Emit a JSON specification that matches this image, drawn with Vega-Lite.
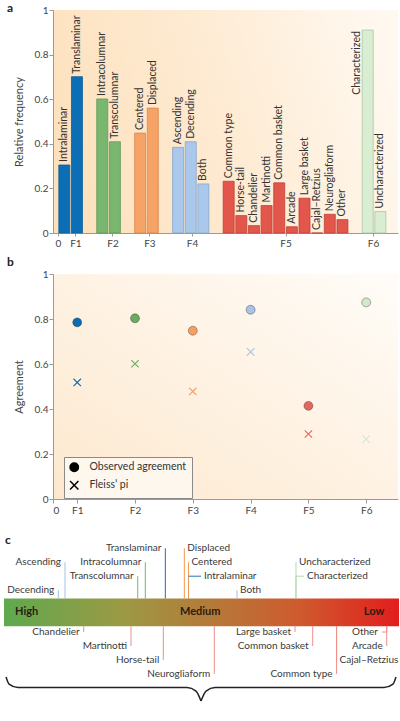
{
  "$schema": "https://vega.github.io/schema/vega-lite/v6.json",
  "background": "white",
  "padding": {"left": 3, "top": 2, "right": 0, "bottom": 0},
  "columns": 1,
  "spacing": 8,
  "resolve": {"scale": {"color": "independent", "stroke": "independent", "shape": "independent"}},
  "config": {
    "font": "Lato",
    "view": {"stroke": null},
    "axis": {"labelFont": "Lato", "titleFont": "Lato", "labelColor": "#444", "titleColor": "#444", "domainColor": "#9a9a9a", "tickColor": "#9a9a9a", "grid": false, "labelFontSize": 10, "titleFontSize": 11, "titleFontWeight": "normal"},
    "title": {"fontSize": 12, "fontWeight": "bold", "anchor": "start", "color": "#222", "font": "Lato"}
  },
  "datasets": {
    "bars": [
      {"name": "Intralaminar", "group": "F1", "slot": 0, "value": 0.305},
      {"name": "Translaminar", "group": "F1", "slot": 1, "value": 0.701},
      {"name": "Intracolumnar", "group": "F2", "slot": 3, "value": 0.601},
      {"name": "Transcolumnar", "group": "F2", "slot": 4, "value": 0.409},
      {"name": "Centered", "group": "F3", "slot": 6, "value": 0.448},
      {"name": "Displaced", "group": "F3", "slot": 7, "value": 0.56},
      {"name": "Ascending", "group": "F4", "slot": 9, "value": 0.384},
      {"name": "Decending", "group": "F4", "slot": 10, "value": 0.409},
      {"name": "Both", "group": "F4", "slot": 11, "value": 0.22},
      {"name": "Common type", "group": "F5", "slot": 13, "value": 0.232},
      {"name": "Horse-tail", "group": "F5", "slot": 14, "value": 0.078},
      {"name": "Chandelier", "group": "F5", "slot": 15, "value": 0.033},
      {"name": "Martinotti", "group": "F5", "slot": 16, "value": 0.123},
      {"name": "Common basket", "group": "F5", "slot": 17, "value": 0.225},
      {"name": "Arcade", "group": "F5", "slot": 18, "value": 0.028},
      {"name": "Large basket", "group": "F5", "slot": 19, "value": 0.156},
      {"name": "Cajal–Retzius", "group": "F5", "slot": 20, "value": 0.0},
      {"name": "Neurogliaform", "group": "F5", "slot": 21, "value": 0.084},
      {"name": "Other", "group": "F5", "slot": 22, "value": 0.06},
      {"name": "Characterized", "group": "F6", "slot": 24, "value": 0.91},
      {"name": "Uncharacterized", "group": "F6", "slot": 25, "value": 0.096}
    ],
    "points": [
      {"group": "F1", "f": 1, "measure": "Observed agreement", "value": 0.785},
      {"group": "F2", "f": 2, "measure": "Observed agreement", "value": 0.803},
      {"group": "F3", "f": 3, "measure": "Observed agreement", "value": 0.748},
      {"group": "F4", "f": 4, "measure": "Observed agreement", "value": 0.841},
      {"group": "F5", "f": 5, "measure": "Observed agreement", "value": 0.414},
      {"group": "F6", "f": 6, "measure": "Observed agreement", "value": 0.874},
      {"group": "F1", "f": 1, "measure": "Fleiss’ pi", "value": 0.518},
      {"group": "F2", "f": 2, "measure": "Fleiss’ pi", "value": 0.601},
      {"group": "F3", "f": 3, "measure": "Fleiss’ pi", "value": 0.478},
      {"group": "F4", "f": 4, "measure": "Fleiss’ pi", "value": 0.654},
      {"group": "F5", "f": 5, "measure": "Fleiss’ pi", "value": 0.289},
      {"group": "F6", "f": 6, "measure": "Fleiss’ pi", "value": 0.266}
    ],
    "tags": [
      {"name": "Decending", "group": "F4", "pos": 0.1375, "labelPos": 0.1375, "tier": 1, "side": "above", "anchor": "left"},
      {"name": "Ascending", "group": "F4", "pos": 0.1544, "labelPos": 0.1544, "tier": 3, "side": "above", "anchor": "left"},
      {"name": "Transcolumnar", "group": "F2", "pos": 0.3385, "labelPos": 0.3385, "tier": 2, "side": "above", "anchor": "left"},
      {"name": "Intracolumnar", "group": "F2", "pos": 0.3577, "labelPos": 0.3577, "tier": 3, "side": "above", "anchor": "left"},
      {"name": "Translaminar", "group": "F1", "pos": 0.4084, "labelPos": 0.4084, "tier": 4, "side": "above", "anchor": "left"},
      {"name": "Displaced", "group": "F3", "pos": 0.4565, "labelPos": 0.4565, "tier": 4, "side": "above", "anchor": "right"},
      {"name": "Intralaminar", "group": "F1", "pos": 0.4671, "labelPos": 0.4987, "tier": 2, "side": "above", "anchor": "right"},
      {"name": "Centered", "group": "F3", "pos": 0.4671, "labelPos": 0.4671, "tier": 3, "side": "above", "anchor": "right"},
      {"name": "Both", "group": "F4", "pos": 0.5899, "labelPos": 0.5899, "tier": 1, "side": "above", "anchor": "right"},
      {"name": "Characterized", "group": "F6", "pos": 0.7392, "labelPos": 0.7595, "tier": 2, "side": "above", "anchor": "right"},
      {"name": "Uncharacterized", "group": "F6", "pos": 0.7392, "labelPos": 0.7392, "tier": 3, "side": "above", "anchor": "right"},
      {"name": "Chandelier", "group": "F5", "pos": 0.2018, "labelPos": 0.2018, "tier": -2, "side": "below", "anchor": "left"},
      {"name": "Martinotti", "group": "F5", "pos": 0.3215, "labelPos": 0.3215, "tier": -3, "side": "below", "anchor": "left"},
      {"name": "Horse-tail", "group": "F5", "pos": 0.4033, "labelPos": 0.4033, "tier": -4, "side": "below", "anchor": "left"},
      {"name": "Neurogliaform", "group": "F5", "pos": 0.5324, "labelPos": 0.5324, "tier": -5, "side": "below", "anchor": "left"},
      {"name": "Large basket", "group": "F5", "pos": 0.7367, "labelPos": 0.7367, "tier": -2, "side": "below", "anchor": "left"},
      {"name": "Common basket", "group": "F5", "pos": 0.7815, "labelPos": 0.7815, "tier": -3, "side": "below", "anchor": "left"},
      {"name": "Cajal–Retzius", "group": "F5", "pos": 0.842, "labelPos": 0.842, "tier": -4, "side": "below", "anchor": "right"},
      {"name": "Common type", "group": "F5", "pos": 0.842, "labelPos": 0.842, "tier": -5, "side": "below", "anchor": "left"},
      {"name": "Other", "group": "F5", "pos": 0.9689, "labelPos": 0.957, "tier": -2, "side": "below", "anchor": "left"},
      {"name": "Arcade", "group": "F5", "pos": 0.9689, "labelPos": 0.9689, "tier": -3, "side": "below", "anchor": "left"}
    ],
    "brace": [
      {"half": "left", "pos": 0.0051, "t": -5.224},
      {"half": "left", "pos": 0.0127, "t": -5.726},
      {"half": "left", "pos": 0.0354, "t": -5.976},
      {"half": "left", "pos": 0.4633, "t": -5.976},
      {"half": "left", "pos": 0.4861, "t": -6.227},
      {"half": "left", "pos": 0.4987, "t": -6.943},
      {"half": "right", "pos": 0.4987, "t": -6.943},
      {"half": "right", "pos": 0.5114, "t": -6.227},
      {"half": "right", "pos": 0.5342, "t": -5.976},
      {"half": "right", "pos": 0.962, "t": -5.976},
      {"half": "right", "pos": 0.9848, "t": -5.726},
      {"half": "right", "pos": 0.9924, "t": -5.224}
    ],
    "levels": [
      {"label": "High", "pos": 0.0278, "t": -0.568, "anchor": "left"},
      {"label": "Medium", "pos": 0.4967, "t": -0.568, "anchor": "center"},
      {"label": "Low", "pos": 0.9628, "t": -0.568, "anchor": "right"}
    ],
    "scaleband": [
      {"segment": "agreement scale", "start": 0, "end": 1, "top": 0.41, "bottom": -1.59}
    ]
  },
  "concat": [
    {
      "width": 345,
      "height": 223,
      "title": {"text": "a", "offset": -10, "dx": -6},
      "view": {"stroke": null, "fill": {"gradient": "linear", "x1": 0, "y1": 0.6, "x2": 1, "y2": 0.4, "stops": [{"offset": 0, "color": "#fde1bd"}, {"offset": 0.5, "color": "#feebd3"}, {"offset": 1, "color": "#fff8ef"}]}},
      "data": {"name": "bars"},
      "encoding": {
        "x": {"field": "slot", "type": "quantitative", "scale": {"domain": [-0.5, 26], "nice": false, "zero": false},
              "axis": {"title": null, "values": [-0.5, 0.88, 3.81, 6.73, 10.1, 17.5, 24.42], "labelExpr": "['0','F1','F2','F3','F4','F5','F6'][indexof([-0.5, 0.88, 3.81, 6.73, 10.1, 17.5, 24.42], datum.value)]", "tickSize": 3, "labelPadding": 2}},
        "y": {"field": "value", "type": "quantitative", "scale": {"domain": [0, 1], "nice": false},
              "axis": {"title": "Relative frequency", "values": [0, 0.2, 0.4, 0.6, 0.8, 1], "format": "~g", "tickSize": 4, "labelPadding": 1, "titlePadding": 10}}
      },
      "layer": [
        {
          "mark": {"type": "bar", "size": 11, "strokeWidth": 0.8},
          "encoding": {
            "color": {"field": "group", "type": "nominal", "scale": {"domain": ["F1", "F2", "F3", "F4", "F5", "F6"], "range": ["#0c6fb6", "#79b66f", "#f5a366", "#a9c8eb", "#e2564b", "#d9edd2"]}, "legend": null},
            "stroke": {"field": "group", "type": "nominal", "scale": {"domain": ["F1", "F2", "F3", "F4", "F5", "F6"], "range": ["#0a5f9c", "#5e9a56", "#d9874d", "#86a6cc", "#c43f36", "#a9c7a1"]}, "legend": null}
          }
        },
        {
          "transform": [{"filter": "datum.name !== 'Characterized'"}],
          "mark": {"type": "text", "angle": 270, "align": "left", "baseline": "middle", "dx": 3, "fontSize": 10.5, "color": "#333"},
          "encoding": {"text": {"field": "name"}}
        },
        {
          "transform": [{"filter": "datum.name === 'Characterized'"}],
          "mark": {"type": "text", "angle": 270, "align": "right", "baseline": "middle", "dx": -1, "dy": -11, "fontSize": 10.5, "color": "#333"},
          "encoding": {"text": {"field": "name"}}
        }
      ]
    },
    {
      "width": 345,
      "height": 225,
      "title": {"text": "b", "offset": 0, "dx": -6},
      "view": {"stroke": null, "fill": {"gradient": "linear", "x1": 0, "y1": 1, "x2": 1, "y2": 0, "stops": [{"offset": 0, "color": "#fde8ce"}, {"offset": 1, "color": "#fffcf8"}]}},
      "data": {"name": "points"},
      "encoding": {
        "x": {"field": "f", "type": "quantitative", "scale": {"domain": [0.581, 6.55], "nice": false, "zero": false},
              "axis": {"title": null, "values": [0.581, 1, 2, 3, 4, 5, 6], "labelExpr": "datum.value < 1 ? '0' : 'F' + datum.value", "tickSize": 4, "labelPadding": 2}},
        "y": {"field": "value", "type": "quantitative", "scale": {"domain": [0, 1], "nice": false},
              "axis": {"title": "Agreement", "values": [0, 0.2, 0.4, 0.6, 0.8, 1], "format": "~g", "tickSize": 4, "labelPadding": 1, "titlePadding": 10}},
        "shape": {"field": "measure", "type": "nominal", "scale": {"domain": ["Observed agreement", "Fleiss’ pi"], "range": ["circle", "M-1,-1L1,1M-1,1L1,-1"]},
                  "legend": {"title": null, "orient": "none", "legendX": 11, "legendY": 183, "strokeColor": "#8a8a8a", "fillColor": "#fdf7ee", "padding": 5, "labelFontSize": 10.5, "labelColor": "#333", "labelFont": "Lato", "symbolSize": 70, "rowPadding": 3, "labelOffset": 10,
                             "encode": {"symbols": {"update": {"fill": {"value": "#555"}, "stroke": {"value": "#222"}, "strokeWidth": {"value": 1.2}, "opacity": {"value": 1}}}}}},
        "color": {"field": "group", "type": "nominal", "scale": {"domain": ["F1", "F2", "F3", "F4", "F5", "F6"], "range": ["#0b6cb4", "#6aab62", "#f4a064", "#a7c4e6", "#e4675b", "#d3e8cb"]}, "legend": null}
      },
      "layer": [
        {
          "transform": [{"filter": "datum.measure === 'Observed agreement'"}],
          "mark": {"type": "point", "filled": true, "size": 80, "opacity": 1, "stroke": "#000", "strokeOpacity": 0.3, "strokeWidth": 1}
        },
        {
          "transform": [{"filter": "datum.measure !== 'Observed agreement'"}],
          "mark": {"type": "point", "filled": false, "size": 55, "opacity": 1, "strokeWidth": 1.1}
        }
      ]
    },
    {
      "width": 346,
      "height": 196,
      "title": {"text": "c", "offset": -24, "dx": 2},
      "view": {"stroke": null},
      "encoding": {
        "x": {"field": "pos", "type": "quantitative", "scale": {"domain": [0.124, 1], "nice": false, "zero": false}, "axis": null},
        "y": {"field": "t", "type": "quantitative", "scale": {"domain": [-8.23, 5.81], "nice": false, "zero": false}, "axis": null}
      },
      "layer": [
        {
          "data": {"name": "scaleband"},
          "mark": {"type": "rect", "fill": {"gradient": "linear", "x1": 0, "y1": 0, "x2": 1, "y2": 0, "stops": [{"offset": 0, "color": "#5ea94f"}, {"offset": 0.3, "color": "#9c9944"}, {"offset": 0.5, "color": "#b27d3a"}, {"offset": 0.75, "color": "#cf5a2e"}, {"offset": 1, "color": "#e21d1d"}]}},
          "encoding": {"x": {"field": "start", "type": "quantitative"}, "x2": {"field": "end"}, "y": {"field": "top", "type": "quantitative"}, "y2": {"field": "bottom"}}
        },
        {
          "data": {"name": "levels"},
          "transform": [{"filter": "datum.anchor === 'left'"}],
          "mark": {"type": "text", "align": "left", "baseline": "middle", "fontWeight": "bold", "fontSize": 11, "color": "#2a1d10"},
          "encoding": {"text": {"field": "label"}}
        },
        {
          "data": {"name": "levels"},
          "transform": [{"filter": "datum.anchor === 'center'"}],
          "mark": {"type": "text", "align": "center", "baseline": "middle", "fontWeight": "bold", "fontSize": 11, "color": "#2a1d10"},
          "encoding": {"text": {"field": "label"}}
        },
        {
          "data": {"name": "levels"},
          "transform": [{"filter": "datum.anchor === 'right'"}],
          "mark": {"type": "text", "align": "right", "baseline": "middle", "fontWeight": "bold", "fontSize": 11, "color": "#2a1d10"},
          "encoding": {"text": {"field": "label"}}
        },
        {
          "data": {"name": "tags"},
          "transform": [{"filter": "datum.side === 'above'"}],
          "mark": {"type": "rule", "strokeWidth": 1},
          "encoding": {
            "y": {"field": "tier", "type": "quantitative"},
            "y2": {"datum": 0.41},
            "color": {"field": "group", "type": "nominal", "scale": {"domain": ["F1", "F2", "F3", "F4", "F5", "F6"], "range": ["#1a74ba", "#7ab36f", "#f19a52", "#a3c3e3", "#ef8f87", "#b5d9ad"]}, "legend": null}
          }
        },
        {
          "data": {"name": "tags"},
          "transform": [{"filter": "datum.side === 'below'"}],
          "mark": {"type": "rule", "strokeWidth": 1},
          "encoding": {
            "y": {"field": "tier", "type": "quantitative"},
            "y2": {"datum": -1.59},
            "color": {"field": "group", "type": "nominal", "legend": null}
          }
        },
        {
          "data": {"name": "tags"},
          "transform": [{"filter": "datum.pos !== datum.labelPos"}],
          "mark": {"type": "rule", "strokeWidth": 1},
          "encoding": {
            "x2": {"field": "labelPos"},
            "y": {"field": "tier", "type": "quantitative"},
            "color": {"field": "group", "type": "nominal", "legend": null}
          }
        },
        {
          "data": {"name": "tags"},
          "transform": [{"filter": "datum.anchor === 'left'"}],
          "mark": {"type": "text", "align": "right", "baseline": "middle", "dx": -4, "fontSize": 10, "color": "#3a3a3a"},
          "encoding": {"x": {"field": "labelPos", "type": "quantitative"}, "y": {"field": "tier", "type": "quantitative"}, "text": {"field": "name"}}
        },
        {
          "data": {"name": "tags"},
          "transform": [{"filter": "datum.anchor === 'right'"}],
          "mark": {"type": "text", "align": "left", "baseline": "middle", "dx": 3, "fontSize": 10, "color": "#3a3a3a"},
          "encoding": {"x": {"field": "labelPos", "type": "quantitative"}, "y": {"field": "tier", "type": "quantitative"}, "text": {"field": "name"}}
        },
        {
          "data": {"name": "brace"},
          "mark": {"type": "line", "interpolate": "monotone", "color": "#222", "strokeWidth": 1.5},
          "encoding": {"detail": {"field": "half"}}
        },
        {
          "data": {"values": [{"label": "Agreement"}]},
          "mark": {"type": "text", "align": "center", "baseline": "middle", "fontWeight": "bold", "fontSize": 11, "color": "#222"},
          "encoding": {"x": {"datum": 0.4987, "type": "quantitative"}, "y": {"datum": -7.64, "type": "quantitative"}, "text": {"field": "label"}}
        }
      ]
    }
  ]
}
